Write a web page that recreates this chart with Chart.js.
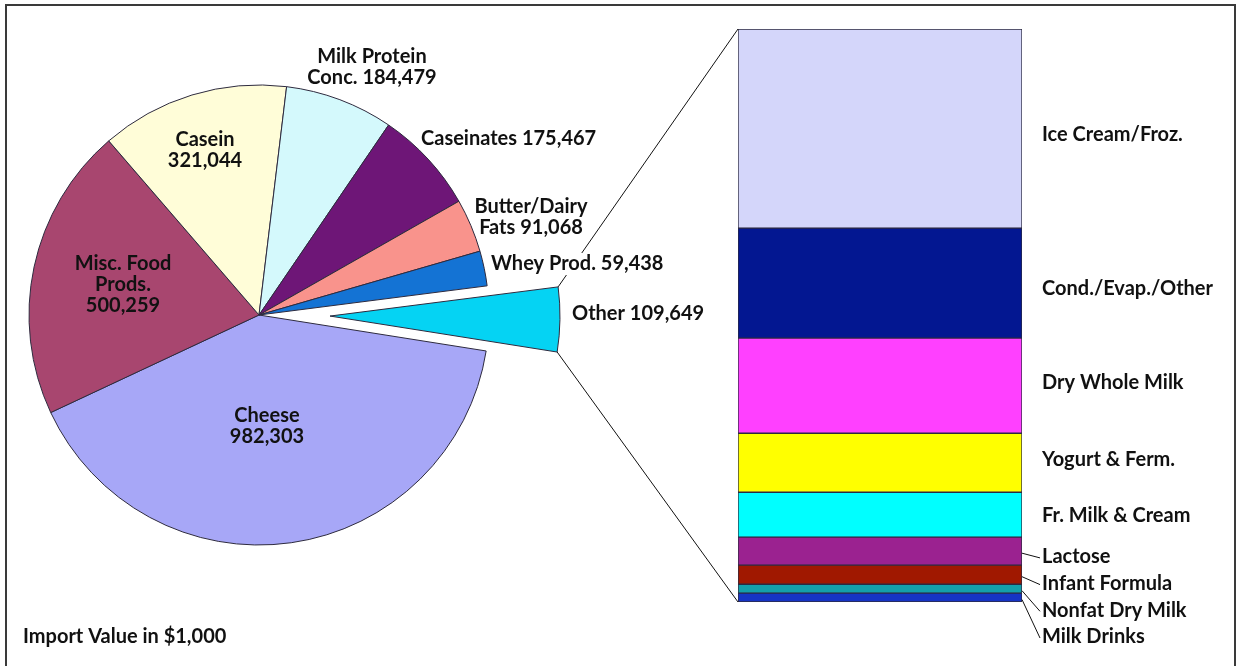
<!DOCTYPE html>
<html>
<head>
<meta charset="utf-8">
<script src="https://cdn.jsdelivr.net/npm/chart.js@4.4.1/dist/chart.umd.min.js"></script>
<style>
    html, body { margin: 0; padding: 0; background: #fff; overflow: hidden; }
    #wrap { position: relative; width: 1241px; height: 666px; }
    #wrap canvas { position: absolute; left: 0; top: 0; }
    #frame { position: absolute; left: 5px; top: 4px; width: 1227px; height: 700px; border: 2px solid #3a3a3a; }
</style>
</head>
<body>
<div id="wrap">
    <div id="frame"></div>
    <canvas id="barChart" width="1241" height="666"></canvas>
    <canvas id="pieChart" width="1241" height="666"></canvas>
</div>
<script>
// pie: import value in $1,000 (line breaks are where the label wraps)
const pieCategories = [
    "Cheese\n",
    "Misc. Food\nProds.\n",
    "Casein\n",
    "Milk Protein\nConc. ",
    "Caseinates ",
    "Butter/Dairy\nFats ",
    "Whey Prod. ",
    "Other ",
];
const pieValues = [982303, 500259, 321044, 184479, 175467, 91068, 59438, 109649];
const pieColors = [
    "#a7a7f7", // cheese
    "#a8466f", // misc
    "#fffdd8", // casein
    "#d4f9fc", // mpc
    "#6e1677", // caseinates
    "#f9938c", // butter
    "#1473d4", // whey
    "#05d3f3", // other
];

// breakdown of "Other", top to bottom
const otherCategories = [
    "Ice Cream/Froz.",
    "Cond./Evap./Other",
    "Dry Whole Milk",
    "Yogurt & Ferm.",
    "Fr. Milk & Cream",
    "Lactose",
    "Infant Formula",
    "Nonfat Dry Milk",
    "Milk Drinks",
];
const otherValues = [38100, 21050, 18200, 11300, 8600, 5350, 3650, 1700, 1700];
const otherColors = [
    "#d4d6fa",
    "#031791",
    "#ff40ff",
    "#ffff00",
    "#00ffff",
    "#9b2290",
    "#a01800",
    "#14a0aa",
    "#1634c4",
];

const FONT = "bold 20px Lato";
const INK = "#111";
const LINE_H = 21;
const EXPLODE = 71;

const fmt = (v) => v.toLocaleString("en-US");

// label anchors, relative to each slice's center point
const pieLabelLayout = [
    { dx: 8, dy: 101, align: "center" },
    { dx: -136, dy: -51, align: "center" },
    { dx: -54, dy: -175, align: "center" },
    { dx: 113, dy: -258, align: "center" },
    { dx: 162, dy: -176, align: "left" },
    { dx: 272, dy: -108, align: "center" },
    { dx: 232, dy: -51, align: "left", bg: true },
    { dx: 242, dy: -3, align: "left" },
];
const bigLabelShift = [6, 5, -3, -3, 1];

// ---------- stacked bar (drawn first, sits underneath) ----------
const n = otherCategories.length;
const otherTotal = otherValues.reduce((a, b) => a + b, 0);

const barLabels = {
    id: "barLabels",
    afterDatasetsDraw(chart) {
        const ctx = chart.ctx;
        const area = chart.chartArea;
        ctx.save();
        ctx.font = FONT;
        ctx.fillStyle = INK;
        ctx.strokeStyle = INK;
        ctx.lineWidth = 1;
        ctx.textAlign = "left";
        ctx.textBaseline = "middle";
        const tx = area.right + 20;
        otherCategories.forEach((name, i) => {
            const el = chart.getDatasetMeta(n - 1 - i).data[0];
            const mid = (el.y + el.base) / 2;
            if (i < bigLabelShift.length) {
                ctx.fillText(name, tx, mid + bigLabelShift[i]);
            } else {
                const y = area.bottom + 35 - (n - 1 - i) * 26.7;
                ctx.beginPath();
                ctx.moveTo(area.right, mid + 2);
                ctx.lineTo(tx - 2, y + 1);
                ctx.stroke();
                ctx.fillText(name, tx, y);
            }
        });
        ctx.restore();
    },
};

const barChart = new Chart(document.getElementById("barChart"), {
    type: "bar",
    data: {
        labels: ["Other"],
        datasets: otherCategories
            .map((name, i) => ({
                label: name,
                data: [otherValues[i]],
                backgroundColor: otherColors[i],
                borderColor: "#2c2a40",
                borderWidth: 1,
                borderSkipped: false,
                barPercentage: 1,
                categoryPercentage: 1,
            }))
            .reverse(),
    },
    options: {
        responsive: false,
        animation: false,
        layout: { padding: { left: 738, right: 219, top: 29, bottom: 64 } },
        scales: {
            x: { stacked: true, display: false },
            y: { stacked: true, display: false, min: 0, max: otherTotal },
        },
        plugins: { legend: { display: false }, tooltip: { enabled: false } },
    },
    plugins: [barLabels],
});

// ---------- pie ----------
const explodeOther = {
    id: "explodeOther",
    afterDatasetsUpdate(chart) {
        const arc = chart.getDatasetMeta(0).data[pieValues.length - 1];
        const mid = (arc.startAngle + arc.endAngle) / 2;
        arc.x += EXPLODE * Math.cos(mid);
        arc.y += EXPLODE * Math.sin(mid);
    },
};

const pieLabels = {
    id: "pieLabels",
    afterDatasetsDraw(chart) {
        const ctx = chart.ctx;
        const arcs = chart.getDatasetMeta(0).data;
        const other = arcs[arcs.length - 1];
        const r = other.outerRadius;
        const area = barChart.chartArea;

        ctx.save();
        // connectors from the exploded slice to the bar
        ctx.strokeStyle = INK;
        ctx.lineWidth = 1;
        ctx.beginPath();
        ctx.moveTo(other.x + r * Math.cos(other.startAngle), other.y + r * Math.sin(other.startAngle));
        ctx.lineTo(area.left, area.top);
        ctx.moveTo(other.x + r * Math.cos(other.endAngle), other.y + r * Math.sin(other.endAngle));
        ctx.lineTo(area.left, area.bottom);
        ctx.stroke();

        ctx.font = FONT;
        ctx.textBaseline = "middle";
        pieLabelLayout.forEach((pos, i) => {
            const arc = arcs[i];
            const lines = (pieCategories[i] + fmt(pieValues[i])).split("\n");
            ctx.textAlign = pos.align;
            lines.forEach((line, j) => {
                const x = arc.x + pos.dx;
                const y = arc.y + pos.dy + j * LINE_H;
                if (pos.bg) {
                    const w = ctx.measureText(line).width;
                    ctx.fillStyle = "#fff";
                    ctx.fillRect(x - 3, y - 11, w + 6, 22);
                }
                ctx.fillStyle = INK;
                ctx.fillText(line, x, y);
            });
        });

        ctx.textAlign = "left";
        ctx.fillText("Import Value in $1,000", 23, 637);
        ctx.restore();
    },
};

new Chart(document.getElementById("pieChart"), {
    type: "pie",
    data: {
        labels: pieCategories.map((c) => c.replace(/\n/g, " ").trim()),
        datasets: [
            {
                data: pieValues,
                backgroundColor: pieColors,
                borderColor: "#2d2a3e",
                borderWidth: 1,
            },
        ],
    },
    options: {
        responsive: false,
        animation: false,
        rotation: 99,
        radius: 230,
        layout: { padding: { left: 29, right: 752, top: 85, bottom: 121 } },
        plugins: { legend: { display: false }, tooltip: { enabled: false } },
    },
    plugins: [explodeOther, pieLabels],
});
</script>
</body>
</html>
